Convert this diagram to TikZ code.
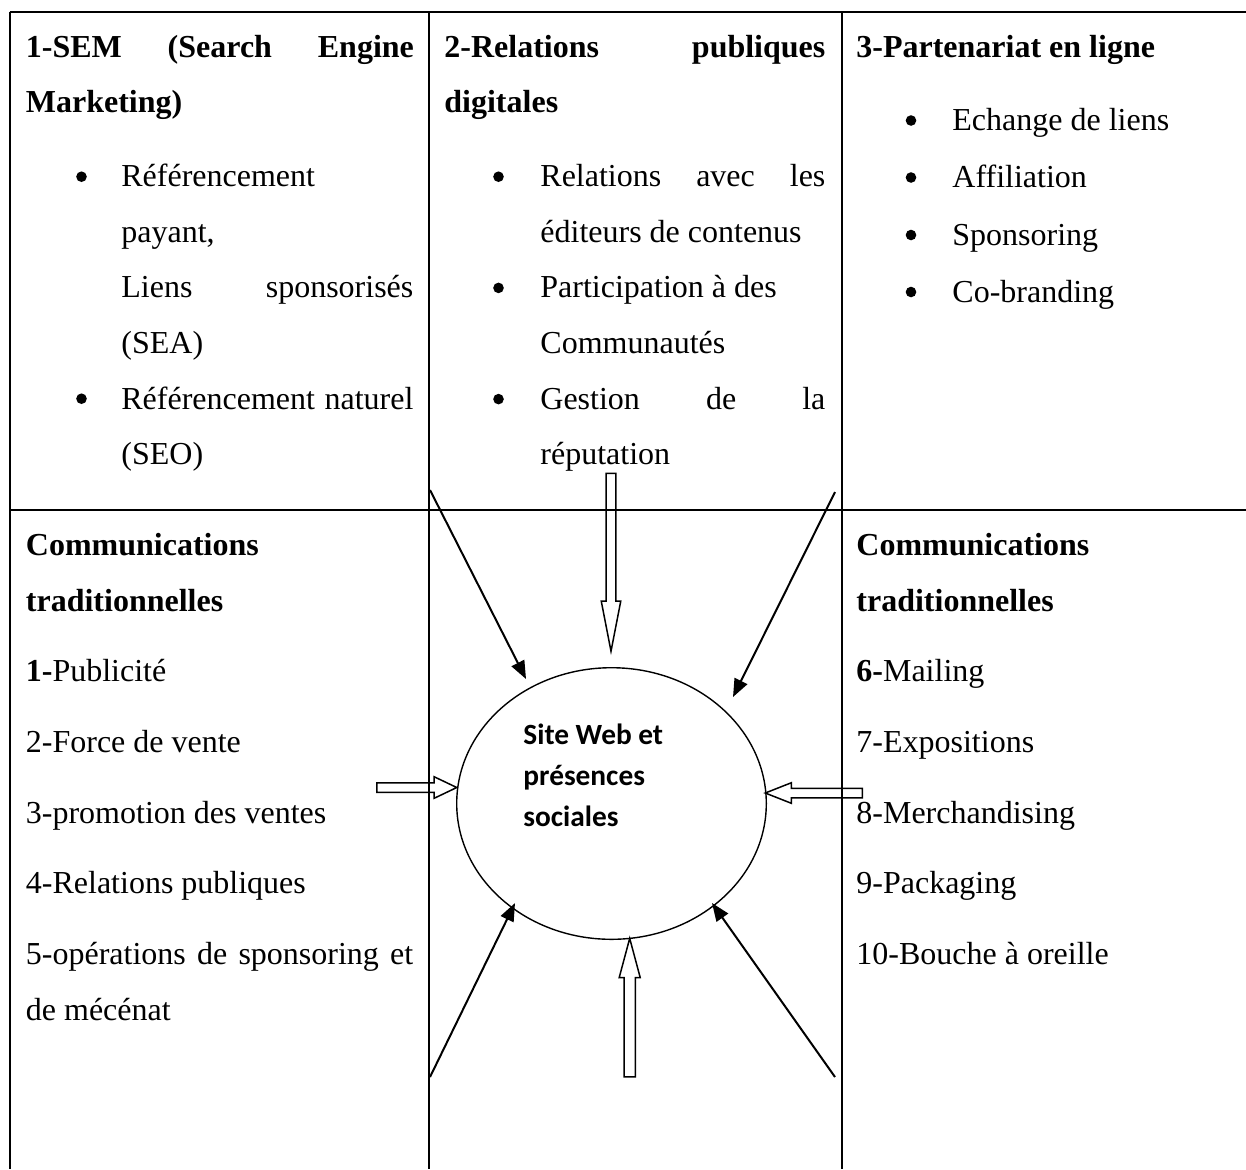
\documentclass[tikz,border=0pt]{standalone}
\usepackage{fontspec}
\setmainfont{Liberation Serif}
\newfontfamily\calibfont{Carlito}
\usetikzlibrary{shapes.geometric,shapes.arrows,arrows.meta}
\tikzset{
  tabline/.style={line width=1pt},
  txt/.style={anchor=base west, inner sep=0pt, font=\fontsize{16pt}{19pt}\selectfont},
  btxt/.style={anchor=base west, inner sep=0pt, font=\fontsize{16pt}{19pt}\selectfont\bfseries},
  etxt/.style={anchor=base west, inner sep=0pt, font=\fontsize{14.67pt}{17pt}\calibfont\bfseries},
  bul/.style={circle, fill=black, inner sep=0pt, minimum size=5.3pt},
  solidarr/.style={line width=1pt, -{Triangle[length=9pt,width=7pt]}},
  blockarr/.style={single arrow, draw, line width=0.75pt, inner xsep=0pt, minimum width=0pt, anchor=tail},
  ellip/.style={ellipse, draw, line width=0.7pt, inner sep=0pt, minimum width=154.8pt, minimum height=135.8pt}
}
\begin{document}
\begin{tikzpicture}[x=0.5pt,y=-0.5pt]
\useasboundingbox (0,0) rectangle (1246,1169);
% table grid
\draw[tabline] (9.5,11.5) -- (1246,11.5);
\draw[tabline] (9.5,510) -- (1246,510);
\draw[tabline] (9.5,11.5) -- (9.5,1169);
\draw[tabline] (429,11.5) -- (429,1169);
\draw[tabline] (841.5,11.5) -- (841.5,1169);

% column 1 (top)
\node[btxt] (c1a) at (25.5,57.5) {\makebox[194pt][s]{1-SEM (Search Engine}};
\node[btxt] (c1b) at (25.5,112) {Marketing)};
\node[bul] (c1u1) at (81.5,176.7) {};
\node[txt] (c1c) at (121,186.7) {Référencement};
\node[txt] (c1d) at (121,242.3) {payant,};
\node[txt] (c1e) at (121,297.9) {\makebox[146pt][s]{Liens sponsorisés}};
\node[txt] (c1f) at (121,353.5) {(SEA)};
\node[bul] (c1u2) at (81.5,398.7) {};
\node[txt] (c1g) at (121,409.1) {\makebox[146pt][s]{Référencement naturel}};
\node[txt] (c1h) at (121,464.7) {(SEO)};

% column 2 (top)
\node[btxt] (c2a) at (444,57.5) {\makebox[190.5pt][s]{2-Relations publiques}};
\node[btxt] (c2b) at (444,112) {digitales};
\node[bul] (c2u1) at (498.5,176.7) {};
\node[txt] (c2c) at (540,186.7) {\makebox[142.5pt][s]{Relations avec les}};
\node[txt] (c2d) at (540,242.3) {éditeurs de contenus};
\node[bul] (c2u2) at (498.5,287.9) {};
\node[txt] (c2e) at (540,297.9) {Participation à des};
\node[txt] (c2f) at (540,353.5) {Communautés};
\node[bul] (c2u3) at (498.5,399.1) {};
\node[txt] (c2g) at (540,409.1) {\makebox[142.5pt][s]{Gestion de la}};
\node[txt] (c2h) at (540,464.7) {réputation};

% column 3 (top)
\node[btxt] (c3a) at (856,57.5) {3-Partenariat en ligne};
\node[bul] (c3u1) at (911,120.5) {};
\node[txt] (c3b) at (952,130.5) {Echange de liens};
\node[bul] (c3u2) at (911,177.5) {};
\node[txt] (c3c) at (952,187.5) {Affiliation};
\node[bul] (c3u3) at (911,235) {};
\node[txt] (c3d) at (952,245) {Sponsoring};
\node[bul] (c3u4) at (911,292) {};
\node[txt] (c3e) at (952,302) {Co-branding};

% lower left
\node[btxt] (l1) at (25.5,555.5) {Communications};
\node[btxt] (l2) at (25.5,611) {traditionnelles};
\node[txt] (l3) at (25.5,681.5) {\textbf{1-}Publicité};
\node[txt] (l4) at (25.5,752.5) {2-Force de vente};
\node[txt] (l5) at (25.5,823) {3-promotion des ventes};
\node[txt] (l6) at (25.5,893.5) {4-Relations publiques};
\node[txt] (l7) at (25.5,964.5) {\makebox[193.7pt][s]{5-opérations de sponsoring et}};
\node[txt] (l8) at (25.5,1020.5) {de mécénat};

% lower right
\node[btxt] (r1) at (856,555.5) {Communications};
\node[btxt] (r2) at (856,611) {traditionnelles};
\node[txt] (r3) at (856,681.5) {\textbf{6-}Mailing};
\node[txt] (r4) at (856,752.5) {7-Expositions};
\node[txt] (r5) at (856,823) {8-Merchandising};
\node[txt] (r6) at (856,893.5) {9-Packaging};
\node[txt] (r7) at (856,964.5) {10-Bouche à oreille};

% central ellipse
\node[ellip] (site) at (611.5,803.5) {};
\node[etxt] (s1) at (523,744) {Site Web et};
\node[etxt] (s2) at (523,785) {présences};
\node[etxt] (s3) at (523,826) {sociales};

% solid arrows
\coordinate (a1s) at (430,490);  \coordinate (a1e) at (526,679);
\coordinate (a2s) at (835,492);  \coordinate (a2e) at (733,697);
\coordinate (a3s) at (430,1077); \coordinate (a3e) at (515,903);
\coordinate (a4s) at (835,1077); \coordinate (a4e) at (712,903);
\draw[solidarr] (a1s) -- (a1e);
\draw[solidarr] (a2s) -- (a2e);
\draw[solidarr] (a3s) -- (a3e);
\draw[solidarr] (a4s) -- (a4e);

% block (hollow) arrows
\coordinate (tt) at (611,472.5);
\coordinate (bt) at (629.7,1077.5);
\coordinate (lt) at (376,787.5);
\coordinate (rt) at (863,793);
\node[blockarr, rotate=-90, minimum height=89pt, inner ysep=2.1pt,
      single arrow head extend=2.4pt, single arrow tip angle=22] (tarr) at (tt) {};
\node[blockarr, rotate=90, minimum height=69.2pt, inner ysep=2.4pt,
      single arrow head extend=2.5pt, single arrow tip angle=30] (barr) at (bt) {};
\node[blockarr, rotate=0, minimum height=40pt, inner ysep=2pt,
      single arrow head extend=3pt, single arrow tip angle=51] (larr) at (lt) {};
\node[blockarr, rotate=180, minimum height=48.5pt, inner ysep=2pt,
      single arrow head extend=2.75pt, single arrow tip angle=43] (rarr) at (rt) {};
\end{tikzpicture}
\end{document}
